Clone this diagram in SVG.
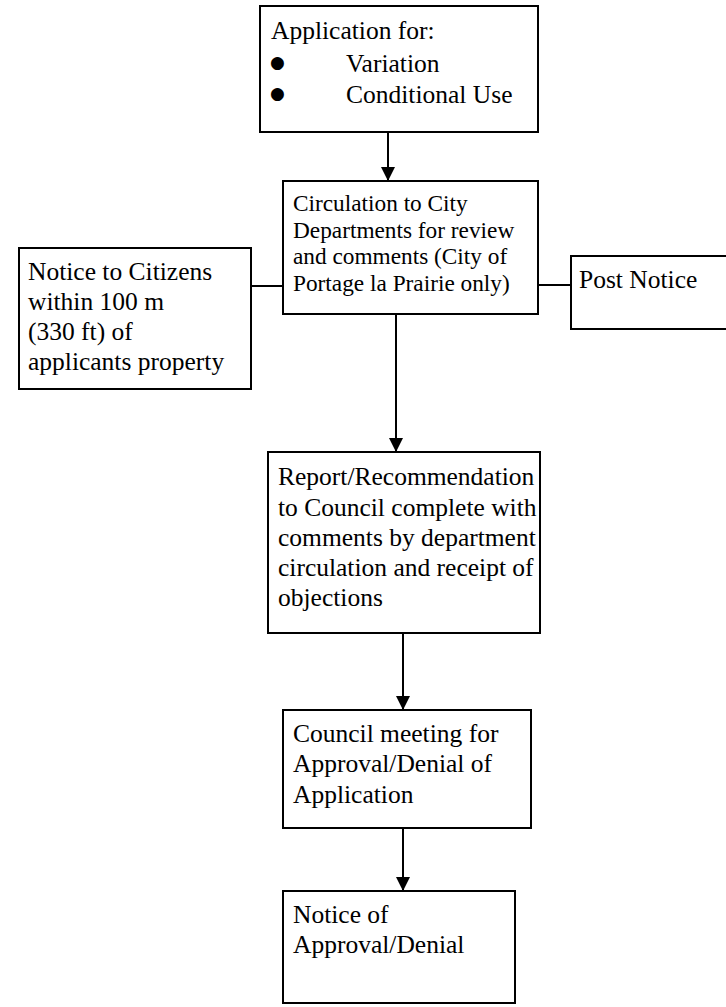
<svg xmlns="http://www.w3.org/2000/svg" width="726" height="1007" viewBox="0 0 726 1007">
<style>
.box{fill:#fff;stroke:#000;stroke-width:2}
.t{font-family:"Liberation Serif","Times New Roman",serif;font-size:25.5px;fill:#000}
.s{font-family:"Liberation Serif","Times New Roman",serif;font-size:23.3px;fill:#000}
.b{font-family:"DejaVu Sans",sans-serif;font-size:17px;fill:#000}
.c{stroke:#000;stroke-width:2;fill:none}
</style>
<defs>
<marker id="ah" markerWidth="14" markerHeight="14" refX="14" refY="7" orient="auto" markerUnits="userSpaceOnUse">
<path d="M0,0 L14,7 L0,14 z" fill="#000"/>
</marker>
</defs>
<rect width="726" height="1007" fill="#fff"/>
<g id="connectors">
<line class="c" x1="388" y1="132" x2="388" y2="181" marker-end="url(#ah)"/>
<line class="c" x1="251" y1="286" x2="283" y2="286"/>
<line class="c" x1="538" y1="285" x2="571" y2="285"/>
<line class="c" x1="396" y1="314" x2="396" y2="452" marker-end="url(#ah)"/>
<line class="c" x1="403" y1="633" x2="403" y2="710" marker-end="url(#ah)"/>
<line class="c" x1="403" y1="828" x2="403" y2="891" marker-end="url(#ah)"/>
</g>
<g id="application">
<rect class="box" x="260" y="6" width="278" height="126"/>
<text class="t" x="271" y="39">Application for:</text>
<text class="b" x="270" y="68">●</text>
<text class="t" x="346" y="72">Variation</text>
<text class="b" x="270" y="99">●</text>
<text class="t" x="346" y="103">Conditional Use</text>
</g>
<g id="circulation">
<rect class="box" x="283" y="181" width="255" height="133"/>
<text class="s" x="293" y="211">Circulation to City</text>
<text class="s" x="293" y="238">Departments for review</text>
<text class="s" x="293" y="264">and comments (City of</text>
<text class="s" x="293" y="291">Portage la Prairie only)</text>
</g>
<g id="notice-citizens">
<rect class="box" x="19" y="248" width="232" height="141"/>
<text class="t" x="28" y="280">Notice to Citizens</text>
<text class="t" x="28" y="310">within 100 m</text>
<text class="t" x="28" y="340">(330 ft) of</text>
<text class="t" x="28" y="370">applicants property</text>
</g>
<g id="post-notice">
<rect class="box" x="571" y="256" width="160" height="73"/>
<text class="t" x="579" y="288">Post Notice</text>
</g>
<g id="report">
<rect class="box" x="268" y="452" width="272" height="181"/>
<text class="t" x="278" y="485">Report/Recommendation</text>
<text class="t" x="278" y="516">to Council complete with</text>
<text class="t" x="278" y="546">comments by department</text>
<text class="t" x="278" y="576">circulation and receipt of</text>
<text class="t" x="278" y="606">objections</text>
</g>
<g id="council">
<rect class="box" x="283" y="710" width="248" height="118"/>
<text class="t" x="293" y="742">Council meeting for</text>
<text class="t" x="293" y="772">Approval/Denial of</text>
<text class="t" x="293" y="803">Application</text>
</g>
<g id="notice-approval">
<rect class="box" x="283" y="891" width="232" height="112"/>
<text class="t" x="293" y="923">Notice of</text>
<text class="t" x="293" y="953">Approval/Denial</text>
</g>
</svg>
